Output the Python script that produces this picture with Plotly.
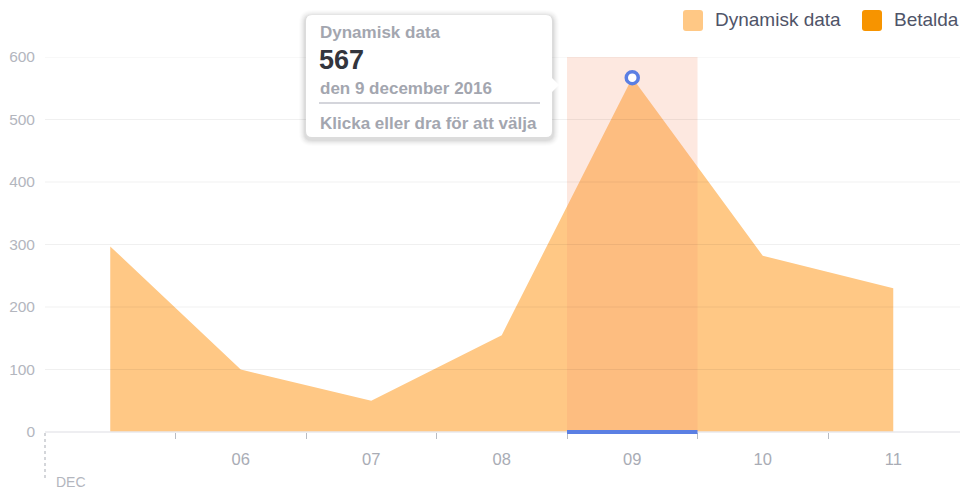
import plotly.graph_objects as go

# ---- data ----
days = [5, 6, 7, 8, 9, 10, 11]
values = [297, 100, 50, 155, 567, 282, 230]
tick_labels = ["06", "07", "08", "09", "10", "11"]
tick_days = [6, 7, 8, 9, 10, 11]
y_ticks = [0, 100, 200, 300, 400, 500, 600]
series_names = ["Dynamisk data", "Betalda"]
series_colors = ["#FFC885", "#F79400"]
month_label = "DEC"
selected_day = 9
selected_value = 567
tooltip_date = "den 9 december 2016"
tooltip_hint = "Klicka eller dra för att välja"

W, H = 960, 489
L, R, T, B = 45, 0, 57, 57
PW, PH = W - L - R, H - T - B
X0 = 4.5
XPX = 130.5
X1 = X0 + PW / XPX


def px(x):
    return (x - L) / PW


def py(y):
    return (H - B - y) / PH


fig = go.Figure()

fig.add_trace(go.Scatter(
    x=days, y=values, mode="lines", fill="tozeroy",
    line=dict(color=series_colors[0], width=0),
    fillcolor=series_colors[0], hoverinfo="skip", showlegend=False,
))

# highlight band (as trace so marker sits above it)
fig.add_trace(go.Scatter(
    x=[selected_day - 0.5, selected_day + 0.5, selected_day + 0.5, selected_day - 0.5, selected_day - 0.5],
    y=[0, 0, y_ticks[-1], y_ticks[-1], 0], mode="lines", fill="toself",
    fillcolor="rgba(245,150,115,0.22)", line=dict(width=0),
    hoverinfo="skip", showlegend=False,
))

# hover marker at selected point
fig.add_trace(go.Scatter(
    x=[selected_day], y=[selected_value], mode="markers",
    marker=dict(size=12, color="white", line=dict(color="#5B7FE3", width=3.5)),
    hoverinfo="skip", showlegend=False, cliponaxis=False,
))

# dummy axis trace for labels on xaxis2
fig.add_trace(go.Scatter(x=tick_days, y=[None] * len(tick_days), xaxis="x2",
                         hoverinfo="skip", showlegend=False))

shapes = []
# gridlines above traces
for v in y_ticks[1:]:
    shapes.append(dict(type="line", xref="paper", yref="y", x0=0, x1=1, y0=v, y1=v,
                       line=dict(color="rgba(0,0,0,0.06)", width=1), layer="above"))
# x axis baseline
shapes.append(dict(type="line", xref="paper", yref="paper", x0=0, x1=1, y0=0, y1=0,
                   line=dict(color="#E8E9EC", width=1.5), layer="above"))
# selection bar at bottom
shapes.append(dict(type="line", xref="x", yref="paper", x0=selected_day - 0.5, x1=selected_day + 0.5,
                   y0=0, y1=0, line=dict(color="#5B7FE3", width=4), layer="above"))
# DEC dotted line
shapes.append(dict(type="line", xref="paper", yref="paper", x0=0, x1=0, y0=py(433), y1=py(478),
                   line=dict(color="#B8BBC2", width=1.2, dash="dot")))

# tooltip shadow + box
bx0, bx1, by0, by1 = 306, 552, 15, 137


def rrect(x0, y0, x1, y1, r):
    a, b, c, d = px(x0), px(x1), py(y0), py(y1)
    rx, ry = r / PW, r / PH
    return (f"M {a+rx},{c} L {b-rx},{c} Q {b},{c} {b},{c-ry} L {b},{d+ry} Q {b},{d} {b-rx},{d} "
            f"L {a+rx},{d} Q {a},{d} {a},{d+ry} L {a},{c-ry} Q {a},{c} {a+rx},{c} Z")


for i, al in enumerate([0.012, 0.016, 0.02, 0.025, 0.03, 0.035]):
    g = 7 - i
    shapes.append(dict(type="path", xref="paper", yref="paper",
                       path=rrect(bx0 - g, by0 - g + 2, bx1 + g, by1 + g + 2, 6 + g),
                       fillcolor=f"rgba(0,0,0,{al})", line=dict(width=0), layer="above"))
shapes.append(dict(type="path", xref="paper", yref="paper",
                   path=rrect(bx0, by0, bx1, by1, 6), fillcolor="white",
                   line=dict(width=0), layer="above"))
# pointer
shapes.append(dict(type="path", xref="paper", yref="paper",
                   path=f"M {px(551)},{py(77)} L {px(559)},{py(85)} L {px(551)},{py(93)} Z",
                   fillcolor="white", line=dict(width=0), layer="above"))
# tooltip divider
shapes.append(dict(type="line", xref="paper", yref="paper", x0=px(319), x1=px(540),
                   y0=py(103), y1=py(103), line=dict(color="#A9ACB8", width=1.2), layer="above"))

# legend squares
for xs, col in zip([683, 862], series_colors):
    shapes.append(dict(type="path", xref="paper", yref="paper",
                       path=rrect(xs, 10, xs + 20, 31, 3), fillcolor=col,
                       line=dict(width=0), layer="above"))

ann = []
FONT = "Liberation Sans, Arial, sans-serif"
gray = "#A3A6AF"
ann.append(dict(text=f"<b>{series_names[0]}</b>", x=px(318), y=py(33), xref="paper", yref="paper",
                xanchor="left", yanchor="middle", showarrow=False,
                font=dict(family=FONT, size=17, color=gray)))
ann.append(dict(text=f"<b>{selected_value}</b>", x=px(317), y=py(60), xref="paper", yref="paper",
                xanchor="left", yanchor="middle", showarrow=False,
                font=dict(family=FONT, size=27, color="#33353D")))
ann.append(dict(text=f"<b>{tooltip_date}</b>", x=px(318), y=py(88), xref="paper", yref="paper",
                xanchor="left", yanchor="middle", showarrow=False,
                font=dict(family=FONT, size=17, color=gray)))
ann.append(dict(text=f"<b>{tooltip_hint}</b>", x=px(318), y=py(123), xref="paper", yref="paper",
                xanchor="left", yanchor="middle", showarrow=False,
                font=dict(family=FONT, size=17, color=gray)))
# legend text
for xs, name in zip([713, 892], series_names):
    ann.append(dict(text=name, x=px(xs), y=py(20), xref="paper", yref="paper",
                    xanchor="left", yanchor="middle", showarrow=False,
                    font=dict(family=FONT, size=19, color="#4F5468")))
# DEC label
ann.append(dict(text=month_label, x=px(54), y=py(482), xref="paper", yref="paper",
                xanchor="left", yanchor="middle", showarrow=False,
                font=dict(family=FONT, size=14, color="#B3B6BE")))

fig.update_layout(
    width=W, height=H,
    margin=dict(l=L, r=R, t=T, b=B),
    paper_bgcolor="white", plot_bgcolor="white",
    showlegend=False,
    shapes=shapes, annotations=ann,
    xaxis=dict(range=[X0, X1], tickvals=[d + 0.5 for d in days[:-1]],
               ticktext=["" for _ in days[:-1]], ticks="outside", ticklen=6,
               tickcolor="#B9BCC3", tickwidth=1.2, showgrid=False, zeroline=False,
               showline=False, fixedrange=True),
    xaxis2=dict(range=[X0, X1], overlaying="x", side="bottom", tickvals=tick_days,
                ticktext=tick_labels, ticks="", showgrid=False, zeroline=False,
                showline=False, ticklabelstandoff=15,
                tickfont=dict(family=FONT, size=16.5, color="#A9ACB5")),
    yaxis=dict(range=[0, 600], tickvals=y_ticks, showgrid=False, zeroline=False,
               showline=False, ticks="", ticklabelstandoff=9,
               tickfont=dict(family=FONT, size=15.5, color="#B3B6BE")),
)

fig.write_html("out.html", config={"displayModeBar": False},
               post_script="document.body.style.margin='0';document.body.style.overflow='hidden';")
